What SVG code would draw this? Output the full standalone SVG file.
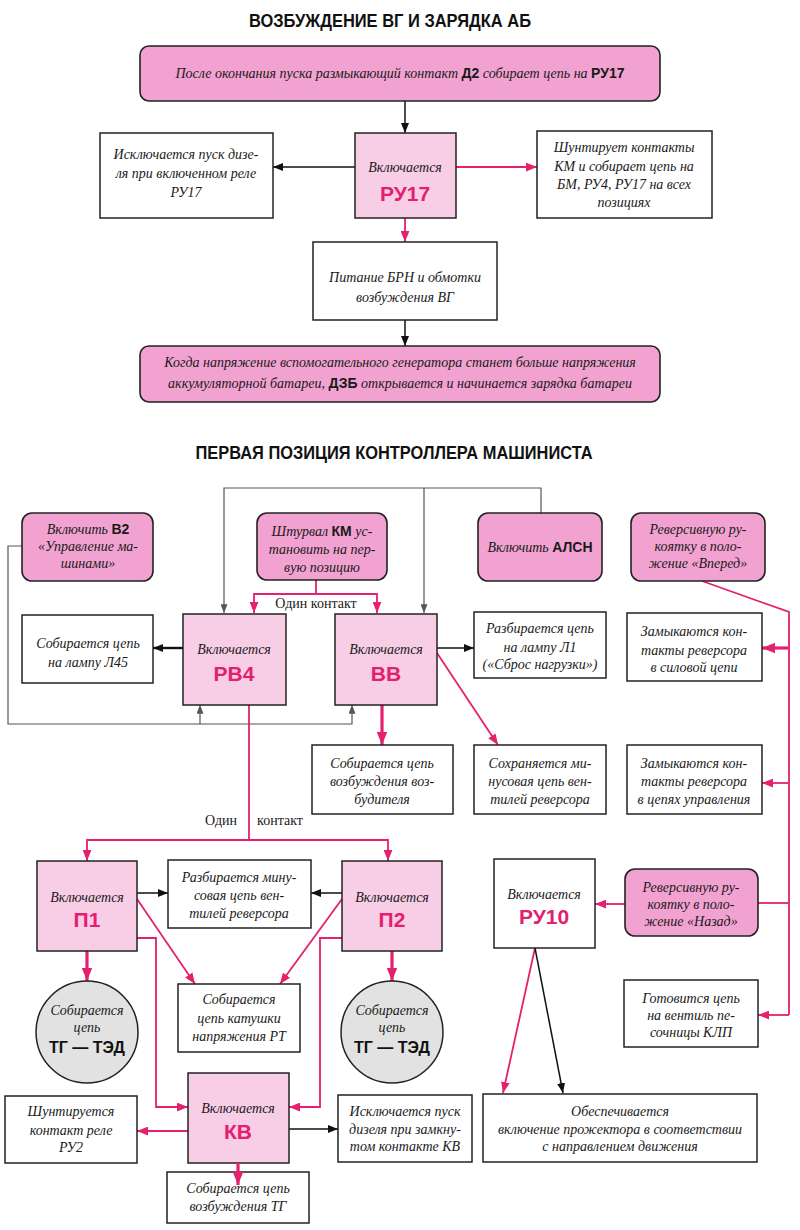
<svg xmlns="http://www.w3.org/2000/svg" width="800" height="1230" viewBox="0 0 800 1230">
<defs>
<style>
.t{font-family:"Liberation Serif",serif;font-style:italic;font-size:14px;fill:#1a1a1a;text-anchor:middle}
.b{font-family:"Liberation Sans",sans-serif;font-weight:bold;font-style:normal}
.big{font-family:"Liberation Sans",sans-serif;font-weight:bold;font-size:21px;fill:#e3206f;text-anchor:middle}
.ttl{font-family:"Liberation Sans",sans-serif;font-weight:bold;font-size:18px;fill:#111;text-anchor:middle}
.lbl{font-family:"Liberation Serif",serif;font-size:14px;fill:#1a1a1a;text-anchor:middle}
.tg{font-family:"Liberation Sans",sans-serif;font-weight:bold;font-size:16px;fill:#111;text-anchor:middle}
.pk{fill:#f2a2d0;stroke:#222;stroke-width:1.6}
.lp{fill:#f8cde6;stroke:#222;stroke-width:1.5}
.wb{fill:#fff;stroke:#222;stroke-width:1.5}
.ci{fill:#e2e2e2;stroke:#222;stroke-width:1.5}
.k{stroke:#111;stroke-width:1.5;fill:none}
.kk{stroke:#111;stroke-width:2.4;fill:none}
.p{stroke:#e5206e;stroke-width:1.8;fill:none}
.pp{stroke:#e5206e;stroke-width:3.2;fill:none}
.g{stroke:#555;stroke-width:1.2;fill:none}
</style>
<marker id="ak" viewBox="0 0 10 8" refX="10" refY="4" markerWidth="10" markerHeight="8" markerUnits="userSpaceOnUse" orient="auto"><path d="M0,0L10,4L0,8z" fill="#111"/></marker>
<marker id="ap" viewBox="0 0 10 8" refX="10" refY="4" markerWidth="11" markerHeight="9" markerUnits="userSpaceOnUse" orient="auto"><path d="M0,0L10,4L0,8z" fill="#e5206e"/></marker>
<marker id="apb" viewBox="0 0 10 8" refX="10" refY="4" markerWidth="13" markerHeight="11" markerUnits="userSpaceOnUse" orient="auto"><path d="M0,0L10,4L0,8z" fill="#e5206e"/></marker>
<marker id="ag" viewBox="0 0 10 8" refX="10" refY="4" markerWidth="9" markerHeight="7" markerUnits="userSpaceOnUse" orient="auto"><path d="M0,0L10,4L0,8z" fill="#555"/></marker>
</defs>
<rect width="800" height="1230" fill="#fff"/>

<text class="ttl" x="390" y="27" textLength="282" lengthAdjust="spacingAndGlyphs">ВОЗБУЖДЕНИЕ ВГ И ЗАРЯДКА АБ</text>
<text class="ttl" x="394" y="459" textLength="397" lengthAdjust="spacingAndGlyphs">ПЕРВАЯ ПОЗИЦИЯ КОНТРОЛЛЕРА МАШИНИСТА</text>

<g id="connectors">
<path class="k" d="M405,101V133" marker-end="url(#ak)"/>
<path class="k" d="M355,167H273" marker-end="url(#ak)"/>
<path class="p" d="M456,167H537" marker-end="url(#ap)"/>
<path class="p" d="M405,218V242" marker-end="url(#ap)"/>
<path class="k" d="M405,320V346" marker-end="url(#ak)"/>

<path class="g" d="M541,513V488H224V613" marker-end="url(#ag)"/>
<path class="g" d="M424,488V613" marker-end="url(#ag)"/>
<path class="g" d="M22,546H8V724H352V705" marker-end="url(#ag)"/>
<path class="g" d="M200,724V705" marker-end="url(#ag)"/>

<path class="p" d="M316,580V594"/>
<path class="p" d="M316,594H254V613" marker-end="url(#ap)"/>
<path class="p" d="M316,594H377V613" marker-end="url(#ap)"/>

<path class="kk" d="M183,648H153" marker-end="url(#ak)"/>
<path class="k" d="M437,648H474" marker-end="url(#ak)"/>
<path class="p" d="M437,653L498,745" marker-end="url(#ap)"/>
<path class="pp" d="M382,705V745" marker-end="url(#apb)"/>

<path class="p" d="M702,581L789,612V1015"/>
<path class="pp" d="M789,648H762" marker-end="url(#apb)"/>
<path class="p" d="M789,783H762" marker-end="url(#ap)"/>
<path class="p" d="M789,1015H758" marker-end="url(#ap)"/>
<path class="p" d="M758,903H789"/>

<path class="p" d="M249,705V840"/>
<path class="p" d="M249,840H87V861" marker-end="url(#ap)"/>
<path class="p" d="M249,840H388V861" marker-end="url(#ap)"/>

<path class="k" d="M137,893H168" marker-end="url(#ak)"/>
<path class="k" d="M342,893H311" marker-end="url(#ak)"/>
<path class="p" d="M137,899L195,984" marker-end="url(#ap)"/>
<path class="p" d="M342,899L280,984" marker-end="url(#ap)"/>
<path class="pp" d="M87,951V981" marker-end="url(#apb)"/>
<path class="pp" d="M392,951V981" marker-end="url(#apb)"/>
<path class="p" d="M137,938H156V1107H188" marker-end="url(#ap)"/>
<path class="p" d="M342,938H320V1107H289" marker-end="url(#ap)"/>
<path class="p" d="M188,1131H137" marker-end="url(#ap)"/>
<path class="k" d="M289,1129H338" marker-end="url(#ak)"/>

<path class="p" d="M625,904H595" marker-end="url(#ap)"/>
<path class="p" d="M535,948L503,1093" marker-end="url(#ap)"/>
<path class="k" d="M535,948L563,1093" marker-end="url(#ak)"/>
</g>

<g id="n-start"><rect class="pk" x="140" y="46" width="520" height="55" rx="9"/>
<text class="t" x="400" y="78">После окончания пуска размыкающий контакт <tspan class="b">Д2</tspan> собирает цепь на <tspan class="b">РУ17</tspan></text></g>

<g id="n-isk"><rect class="wb" x="100" y="133" width="173" height="85"/>
<text class="t" x="186" y="159">Исключается пуск дизе-</text>
<text class="t" x="186" y="178">ля при включенном реле</text>
<text class="t" x="186" y="197">РУ17</text></g>

<g id="n-ru17"><rect class="lp" x="355" y="133" width="101" height="85"/>
<text class="t" x="405" y="172">Включается</text>
<text class="big" x="405" y="201">РУ17</text></g>

<g id="n-shunt"><rect class="wb" x="537" y="131" width="175" height="87"/>
<text class="t" x="624" y="152">Шунтирует контакты</text>
<text class="t" x="624" y="171">КМ и собирает цепь на</text>
<text class="t" x="624" y="189">БМ, РУ4, РУ17  на всех</text>
<text class="t" x="624" y="207">позициях</text></g>

<g id="n-pit"><rect class="wb" x="313" y="242" width="184" height="78"/>
<text class="t" x="405" y="282">Питание БРН и обмотки</text>
<text class="t" x="405" y="302">возбуждения ВГ</text></g>

<g id="n-charge"><rect class="pk" x="140" y="346" width="520" height="56" rx="9"/>
<text class="t" x="400" y="367">Когда напряжение вспомогательного генератора станет больше напряжения</text>
<text class="t" x="400" y="388">аккумуляторной батареи,  <tspan class="b">ДЗБ</tspan> открывается и начинается зарядка батареи</text></g>

<g id="n-b2"><rect class="pk" x="22" y="513" width="131" height="68" rx="10"/>
<text class="t" x="88" y="534">Включить  <tspan class="b">В2</tspan></text>
<text class="t" x="88" y="551">«Управление ма-</text>
<text class="t" x="88" y="568">шинами»</text></g>

<g id="n-km"><rect class="pk" x="257" y="513" width="130" height="67" rx="10"/>
<text class="t" x="322" y="536">Штурвал <tspan class="b">КМ</tspan> ус-</text>
<text class="t" x="322" y="554">тановить на пер-</text>
<text class="t" x="322" y="572">вую позицию</text></g>

<g id="n-alsn"><rect class="pk" x="478" y="513" width="124" height="68" rx="10"/>
<text class="t" x="540" y="552">Включить <tspan class="b">АЛСН</tspan></text></g>

<g id="n-vpered"><rect class="pk" x="631" y="513" width="134" height="68" rx="10"/>
<text class="t" x="698" y="534">Реверсивную ру-</text>
<text class="t" x="698" y="551">коятку  в поло-</text>
<text class="t" x="698" y="568">жение «Вперед»</text></g>

<text class="lbl" x="316" y="608">Один контакт</text>

<g id="n-l45"><rect class="wb" x="22" y="615" width="131" height="68"/>
<text class="t" x="88" y="648">Собирается цепь</text>
<text class="t" x="88" y="667">на лампу Л45</text></g>

<g id="n-rv4"><rect class="lp" x="183" y="614" width="103" height="91"/>
<text class="t" x="234" y="654">Включается</text>
<text class="big" x="234" y="681">РВ4</text></g>

<g id="n-vv"><rect class="lp" x="335" y="614" width="102" height="91"/>
<text class="t" x="386" y="654">Включается</text>
<text class="big" x="386" y="681">ВВ</text></g>

<g id="n-l1"><rect class="wb" x="474" y="612" width="132" height="66"/>
<text class="t" x="540" y="633">Разбирается цепь</text>
<text class="t" x="540" y="652">на лампу Л1</text>
<text class="t" x="540" y="669">(«Сброс нагрузки»)</text></g>

<g id="n-sil"><rect class="wb" x="627" y="613" width="135" height="68"/>
<text class="t" x="694" y="636">Замыкаются кон-</text>
<text class="t" x="694" y="655">такты реверсора</text>
<text class="t" x="694" y="672">в силовой цепи</text></g>

<g id="n-vozb"><rect class="wb" x="312" y="745" width="141" height="69"/>
<text class="t" x="382" y="768">Собирается  цепь</text>
<text class="t" x="382" y="786">возбуждения воз-</text>
<text class="t" x="382" y="804">будителя</text></g>

<g id="n-sohr"><rect class="wb" x="474" y="745" width="132" height="69"/>
<text class="t" x="540" y="768">Сохраняется ми-</text>
<text class="t" x="540" y="786">нусовая цепь вен-</text>
<text class="t" x="540" y="804">тилей реверсора</text></g>

<g id="n-upr"><rect class="wb" x="627" y="745" width="135" height="69"/>
<text class="t" x="694" y="768">Замыкаются кон-</text>
<text class="t" x="694" y="786">такты реверсора</text>
<text class="t" x="694" y="804">в цепях управления</text></g>

<text class="lbl" x="221" y="825">Один</text>
<text class="lbl" x="280" y="825">контакт</text>

<g id="n-p1"><rect class="lp" x="37" y="861" width="100" height="90"/>
<text class="t" x="87" y="902">Включается</text>
<text class="big" x="87" y="927">П1</text></g>

<g id="n-minus"><rect class="wb" x="168" y="860" width="143" height="68"/>
<text class="t" x="239" y="882">Разбирается мину-</text>
<text class="t" x="239" y="900">совая цепь вен-</text>
<text class="t" x="239" y="918">тилей реверсора</text></g>

<g id="n-p2"><rect class="lp" x="342" y="861" width="100" height="90"/>
<text class="t" x="392" y="902">Включается</text>
<text class="big" x="392" y="927">П2</text></g>

<g id="n-ru10"><rect class="wb" x="494" y="859" width="101" height="89"/>
<text class="t" x="544" y="899">Включается</text>
<text class="big" x="544" y="924">РУ10</text></g>

<g id="n-nazad"><rect class="pk" x="625" y="869" width="133" height="67" rx="10"/>
<text class="t" x="691" y="892">Реверсивную  ру-</text>
<text class="t" x="691" y="909">коятку  в  поло-</text>
<text class="t" x="691" y="926">жение   «Назад»</text></g>

<g id="n-c1"><circle class="ci" cx="87" cy="1032" r="51"/>
<text class="t" x="87" y="1015">Собирается</text>
<text class="t" x="87" y="1032">цепь</text>
<text class="tg" x="87" y="1053">ТГ — ТЭД</text></g>

<g id="n-rt"><rect class="wb" x="178" y="984" width="122" height="68"/>
<text class="t" x="239" y="1004">Собирается</text>
<text class="t" x="239" y="1023">цепь катушки</text>
<text class="t" x="239" y="1041">напряжения РТ</text></g>

<g id="n-c2"><circle class="ci" cx="392" cy="1032" r="51"/>
<text class="t" x="392" y="1015">Собирается</text>
<text class="t" x="392" y="1032">цепь</text>
<text class="tg" x="392" y="1053">ТГ — ТЭД</text></g>

<g id="n-klp"><rect class="wb" x="624" y="980" width="134" height="67"/>
<text class="t" x="691" y="1003">Готовится цепь</text>
<text class="t" x="691" y="1020">на   вентиль пе-</text>
<text class="t" x="691" y="1037">сочницы КЛП</text></g>

<g id="n-ru2"><rect class="wb" x="5" y="1096" width="132" height="67"/>
<text class="t" x="71" y="1116">Шунтируется</text>
<text class="t" x="71" y="1135">контакт реле</text>
<text class="t" x="71" y="1152">РУ2</text></g>

<g id="n-kv"><rect class="lp" x="188" y="1073" width="101" height="90"/>
<text class="t" x="238" y="1113">Включается</text>
<text class="big" x="238" y="1139">КВ</text></g>

<g id="n-kvpusk"><rect class="wb" x="338" y="1095" width="134" height="67"/>
<text class="t" x="405" y="1116">Исключается  пуск</text>
<text class="t" x="405" y="1134">дизеля при замкну-</text>
<text class="t" x="405" y="1151">том контакте КВ</text></g>

<g id="n-prozh"><rect class="wb" x="483" y="1094" width="274" height="68"/>
<text class="t" x="620" y="1116">Обеспечивается</text>
<text class="t" x="620" y="1134">включение прожектора в соответствии</text>
<text class="t" x="620" y="1151">с направлением движения</text></g>

<g id="n-tg"><rect class="wb" x="167" y="1172" width="142" height="51"/>
<text class="t" x="238" y="1193">Собирается цепь</text>
<text class="t" x="238" y="1211">возбуждения ТГ</text></g>

<path class="pp" d="M238,1163V1185" marker-end="url(#apb)"/>
</svg>
